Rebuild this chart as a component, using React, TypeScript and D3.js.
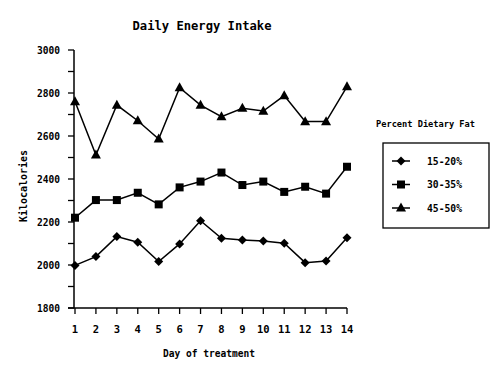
import React from "react";
import * as d3 from "d3";

const days = [1, 2, 3, 4, 5, 6, 7, 8, 9, 10, 11, 12, 13, 14];
const fat15_20 = [1998, 2039, 2132, 2106, 2016, 2098, 2206, 2124, 2116, 2112, 2101, 2011, 2019, 2127];
const fat30_35 = [2220, 2302, 2302, 2336, 2282, 2361, 2388, 2430, 2372, 2388, 2340, 2364, 2332, 2457];
const fat45_50 = [2760, 2512, 2744, 2671, 2586, 2825, 2744, 2690, 2729, 2716, 2788, 2667, 2667, 2830];
const seriesNames = ["15-20%", "30-35%", "45-50%"];
const yTicks = [1800, 2000, 2200, 2400, 2600, 2800, 3000];

const FONT = "'DejaVu Sans Mono', monospace";

function Marker({ kind, x, y }: { kind: string; x: number; y: number }) {
  if (kind === "diamond") {
    const r = 4.5;
    return <path d={`M${x},${y - r}L${x + r},${y}L${x},${y + r}L${x - r},${y}Z`} fill="#000" />;
  }
  if (kind === "square") {
    const s = 8;
    return <rect x={x - s / 2} y={y - s / 2} width={s} height={s} fill="#000" />;
  }
  const h = 9;
  return <path d={`M${x},${y - h * 0.6}L${x + 5},${y + h * 0.4}L${x - 5},${y + h * 0.4}Z`} fill="#000" />;
}

export default function App() {
  const x = d3.scaleLinear().domain([1, 14]).range([75, 347]);
  const y = d3.scaleLinear().domain([1800, 3000]).range([308, 50]);
  const line = d3
    .line<number>()
    .x((_, i) => x(days[i]))
    .y((d) => y(d));
  const series = [
    { data: fat15_20, kind: "diamond" },
    { data: fat30_35, kind: "square" },
    { data: fat45_50, kind: "triangle" },
  ];
  const minorTicks = d3.range(1800, 3001, 100);

  return (
    <svg width={500} height={375} style={{ position: "absolute", left: 0, top: 0, background: "#fff" }}>
      <rect width={500} height={375} fill="#fff" />
      <text x={202} y={30} fontFamily={FONT} fontWeight="bold" fontSize={13} textAnchor="middle" textLength={139} lengthAdjust="spacingAndGlyphs">
        Daily Energy Intake
      </text>
      {/* axes */}
      <line x1={x(1) - 1} x2={x(1) - 1} y1={y(3000)} y2={y(1800)} stroke="#000" strokeWidth={1.5} />
      <line x1={x(1) - 7} x2={x(14)} y1={y(1800)} y2={y(1800)} stroke="#000" strokeWidth={1.5} />
      {minorTicks.map((t) => (
        <line key={t} x1={x(1) - 7} x2={x(1) - 1} y1={y(t)} y2={y(t)} stroke="#000" strokeWidth={1.3} />
      ))}
      {yTicks.map((t) => (
        <text key={t} x={60} y={y(t) + 3.5} fontFamily={FONT} fontWeight="bold" fontSize={10} textAnchor="end" textLength={23} lengthAdjust="spacingAndGlyphs">
          {t}
        </text>
      ))}
      {days.map((d) => (
        <g key={d}>
          <line x1={x(d)} x2={x(d)} y1={y(1800)} y2={y(1800) + 6} stroke="#000" strokeWidth={1.3} />
          <text x={x(d)} y={333} fontFamily={FONT} fontWeight="bold" fontSize={10.5} textAnchor="middle">
            {d}
          </text>
        </g>
      ))}
      <text x={209} y={357} fontFamily={FONT} fontWeight="bold" fontSize={10.5} textAnchor="middle" textLength={92} lengthAdjust="spacingAndGlyphs">
        Day of treatment
      </text>
      <text transform="translate(27,186) rotate(-90)" fontFamily={FONT} fontWeight="bold" fontSize={10.5} textAnchor="middle" textLength={72} lengthAdjust="spacingAndGlyphs">
        Kilocalories
      </text>
      {/* series */}
      {series.map((s, si) => (
        <g key={si}>
          <path d={line(s.data) || ""} fill="none" stroke="#000" strokeWidth={1.5} />
          {s.data.map((v, i) => (
            <Marker key={i} kind={s.kind} x={x(days[i])} y={y(v)} />
          ))}
        </g>
      ))}
      {/* legend */}
      <text x={376} y={127} fontFamily={FONT} fontWeight="bold" fontSize={9.5} textLength={99} lengthAdjust="spacingAndGlyphs">
        Percent Dietary Fat
      </text>
      <rect x={383} y={143} width={106} height={85} fill="none" stroke="#000" strokeWidth={1.3} />
      {series.map((s, i) => {
        const cy = 161 + i * 23.5;
        return (
          <g key={i}>
            <line x1={392} x2={410} y1={cy} y2={cy} stroke="#000" strokeWidth={1.5} />
            <Marker kind={s.kind} x={401} y={cy} />
            <text x={427} y={cy + 3.5} fontFamily={FONT} fontWeight="bold" fontSize={10} textLength={35} lengthAdjust="spacingAndGlyphs">
              {seriesNames[i]}
            </text>
          </g>
        );
      })}
    </svg>
  );
}
